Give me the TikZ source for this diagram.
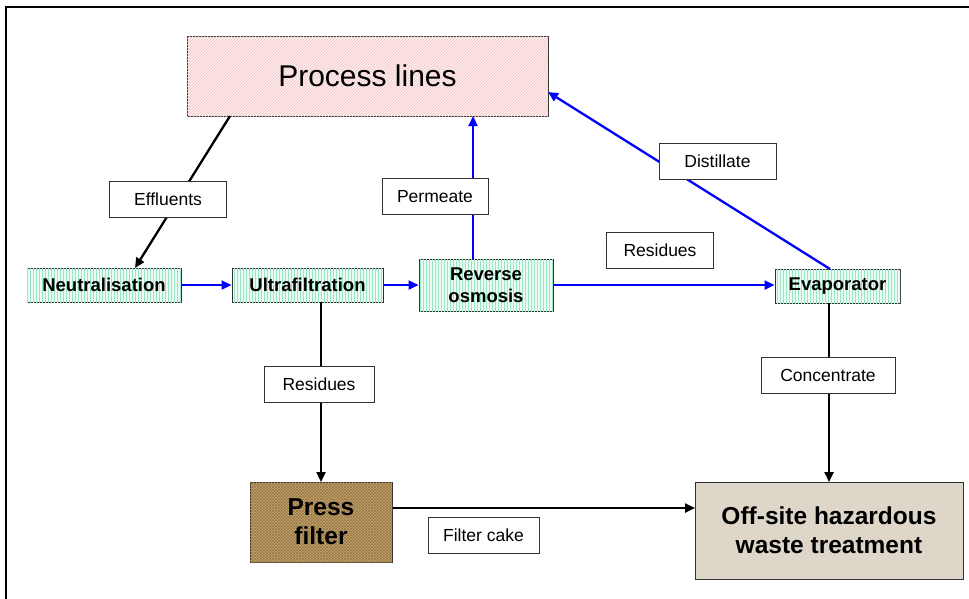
\documentclass[tikz,border=0pt]{standalone}
\usepackage{fontspec}
\setmainfont{Liberation Sans}
\usetikzlibrary{arrows.meta,patterns}
\definecolor{mint}{RGB}{236,252,245}
\definecolor{mintline}{RGB}{150,232,196}
\definecolor{pinkfill}{RGB}{253,238,238}
\definecolor{pinkline}{RGB}{242,196,196}
\definecolor{burlap}{RGB}{196,166,110}
\definecolor{burlapline}{RGB}{150,118,70}
\definecolor{stone}{RGB}{222,215,201}
\definecolor{edge}{RGB}{50,50,50}
\tikzset{
  procbox/.style={draw=edge, line width=1pt, fill=pinkfill,
    postaction={pattern=north east lines, pattern color=pinkline},
    minimum width=361pt, minimum height=80pt, inner sep=0pt,
    font=\fontsize{30}{34}\selectfont},
  stepbox/.style={draw=edge, line width=1pt, fill=mint,
    postaction={pattern=vertical lines, pattern color=mintline},
    inner sep=0pt, align=center,
    font=\fontsize{18.5}{21.5}\selectfont\bfseries},
  pressbox/.style={draw=edge, line width=1pt, fill=burlap,
    postaction={pattern=crosshatch, pattern color=burlapline},
    inner sep=0pt, align=center,
    font=\fontsize{24.5}{29}\selectfont\bfseries},
  wastebox/.style={draw=edge, line width=1pt, fill=stone,
    inner sep=0pt, align=center,
    font=\fontsize{24.5}{29}\selectfont\bfseries},
  labelbox/.style={draw=edge, line width=1pt, fill=white,
    inner sep=0pt, minimum height=36pt,
    font=\fontsize{17.5}{20}\selectfont},
  bluearrow/.style={draw=blue, line width=2.3pt,
    -{Triangle[length=10pt,width=9pt]}},
  blackarrow/.style={draw=black, line width=2.3pt,
    -{Triangle[length=10pt,width=9pt]}},
}
\begin{document}
\begin{tikzpicture}[x=1pt,y=-1pt]
\useasboundingbox (0,0) rectangle (969,598);
% frame
\draw[line width=2.5pt] (6,610) -- (6,7) -- (980,7);

% main nodes
\node[procbox] (proc) at (367.5,76) {Process lines};
\node[stepbox, minimum width=154pt, minimum height=34pt] (neut) at (104,285) {Neutralisation};
\node[stepbox, minimum width=151pt, minimum height=34pt] (ultra) at (307.5,285) {Ultrafiltration};
\node[stepbox, minimum width=134pt, minimum height=52pt] (ro) at (486,285) {Reverse\\osmosis};
\node[stepbox, minimum width=125pt, minimum height=34pt] (evap) at (837.5,286) {Evaporator};
\node[pressbox, minimum width=142pt, minimum height=80pt] (press) at (321,522) {Press\\filter};
\node[wastebox, minimum width=268pt, minimum height=97pt] (off) at (829,530.5) {Off-site hazardous\\waste treatment};

% attachment points
\coordinate (effA) at (230,116);
\coordinate (effB) at (135,268);
\coordinate (permA) at (473,259);
\coordinate (permB) at (473,116);
\coordinate (distA) at (830,269);
\coordinate (distB) at (548,92);
\coordinate (resA) at (321,302);
\coordinate (resB) at (321,482);
\coordinate (conA) at (829,303);
\coordinate (conB) at (829,482);
\coordinate (cakeB) at (695,508);

% connectors
\draw[blackarrow] (effA) -- (effB);
\draw[bluearrow] (neut.east) -- (ultra.west);
\draw[bluearrow] (ultra.east) -- (ro.west);
\draw[bluearrow] (ro.east) -- (evap.west |- ro.east);
\draw[bluearrow] (permA) -- (permB);
\draw[bluearrow] (distA) -- (distB);
\draw[blackarrow] (resA) -- (resB);
\draw[blackarrow] (conA) -- (conB);
\draw[blackarrow] (press.east |- cakeB) -- (cakeB);

% labels
\node[labelbox, minimum width=117pt] (effl) at (168,199) {Effluents};
\node[labelbox, minimum width=106pt] (perm) at (435,196.5) {Permeate};
\node[labelbox, minimum width=117pt] (dist) at (717.5,161) {Distillate};
\node[labelbox, minimum width=107pt] (res1) at (660,250) {Residues};
\node[labelbox, minimum width=110pt] (res2) at (319,384) {Residues};
\node[labelbox, minimum width=134pt] (conc) at (828,375) {Concentrate};
\node[labelbox, minimum width=111pt] (cake) at (483.5,535) {Filter cake};
\end{tikzpicture}
\end{document}
